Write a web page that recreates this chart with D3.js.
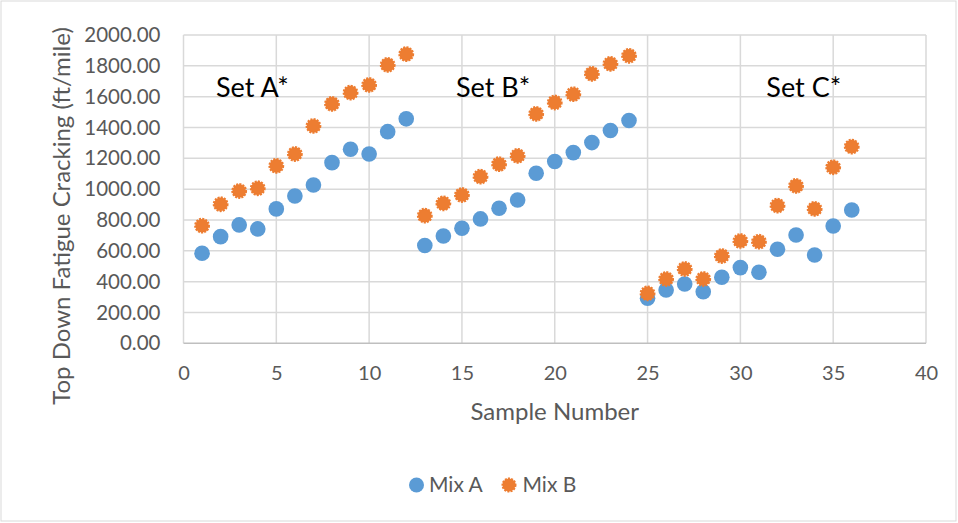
<!DOCTYPE html>
<html>
<head>
<meta charset="utf-8">
<script src="https://cdn.jsdelivr.net/npm/d3@7"></script>
<style>
  body { margin: 0; background: #fff; }
  svg text { font-family: Lato, "Open Sans", sans-serif; }
</style>
</head>
<body>
<svg id="chart" width="958" height="523"></svg>
<script>
const samples = d3.range(1, 37);
const mixA = [584, 692, 768, 742, 872, 956, 1027, 1172, 1259, 1228, 1373, 1456,
              634, 696, 746, 807, 876, 930, 1103, 1179, 1237, 1302, 1380, 1445,
              292, 346, 385, 335, 428, 491, 461, 610, 703, 573, 761, 865];
const mixB = [763, 902, 988, 1006, 1151, 1228, 1410, 1553, 1626, 1676, 1806, 1876,
              828, 908, 962, 1081, 1162, 1216, 1488, 1562, 1616, 1748, 1813, 1865,
              324, 417, 482, 417, 566, 664, 659, 893, 1021, 872, 1142, 1276];
const setLabels = [
  {text: "Set A*", x: 1.75, y: 1598},
  {text: "Set B*", x: 14.68, y: 1598},
  {text: "Set C*", x: 31.4, y: 1598}
];
const xTicks = d3.range(0, 41, 5);
const yTicks = d3.range(0, 2001, 200);

const margin = {top: 35, left: 183.5, right: 32, bottom: 180};
const width = 958, height = 523;
const svg = d3.select("#chart");

svg.append("rect")
    .attr("x", 1).attr("y", 1)
    .attr("width", width - 3).attr("height", height - 3)
    .attr("fill", "#fff").attr("stroke", "#d9d9d9").attr("stroke-width", 1);

const xScale = d3.scaleLinear().domain([0, 40]).range([margin.left, width - margin.right]);
const yScale = d3.scaleLinear().domain([0, 2000]).range([343.3, margin.top]);

// grid
svg.append("g").selectAll("line").data(yTicks.slice(1)).join("line")
    .attr("x1", xScale(0)).attr("x2", xScale(40))
    .attr("y1", d => yScale(d)).attr("y2", d => yScale(d))
    .attr("stroke", "#d9d9d9").attr("stroke-width", 1.5);
svg.append("g").selectAll("line").data(xTicks).join("line")
    .attr("x1", d => xScale(d)).attr("x2", d => xScale(d))
    .attr("y1", yScale(0)).attr("y2", yScale(2000))
    .attr("stroke", "#d9d9d9").attr("stroke-width", 1.5);
svg.append("line")
    .attr("x1", xScale(0)).attr("x2", xScale(40))
    .attr("y1", yScale(0)).attr("y2", yScale(0))
    .attr("stroke", "#bfbfbf").attr("stroke-width", 1.5);

// axes
const xAxis = d3.axisBottom(xScale).tickValues(xTicks).tickSize(0).tickPadding(23);
const gx = svg.append("g").attr("transform", `translate(0,${yScale(0)})`).call(xAxis);
gx.select(".domain").remove();
gx.selectAll("text").attr("font-size", 20).attr("fill", "#595959")
    .style("font-family", "Lato, 'Open Sans', sans-serif");

const yAxis = d3.axisLeft(yScale).tickValues(yTicks).tickSize(0).tickPadding(23)
    .tickFormat(d => d.toFixed(2));
const gy = svg.append("g").attr("transform", `translate(${xScale(0)},0)`).call(yAxis);
gy.select(".domain").remove();
gy.selectAll("text").attr("font-size", 20.5).attr("fill", "#595959")
    .style("font-family", "Lato, 'Open Sans', sans-serif");

// titles
svg.append("text")
    .attr("x", (xScale(0) + xScale(40)) / 2).attr("y", 420)
    .attr("text-anchor", "middle").attr("font-size", 24).attr("fill", "#595959")
    .text("Sample Number");
svg.append("text")
    .attr("transform", "translate(70,216) rotate(-90)")
    .attr("text-anchor", "middle").attr("font-size", 24).attr("fill", "#595959")
    .text("Top Down Fatigue Cracking (ft/mile)");

// set labels
svg.append("g").selectAll("text").data(setLabels).join("text")
    .attr("x", d => xScale(d.x)).attr("y", d => yScale(d.y))
    .attr("font-size", 27).attr("fill", "#000")
    .text(d => d.text);

// points
svg.append("g").selectAll("circle").data(samples).join("circle")
    .attr("cx", d => xScale(d)).attr("cy", (d, i) => yScale(mixA[i]))
    .attr("r", 7.8).attr("fill", "#5b9bd5");
svg.append("g").selectAll("circle").data(samples).join("circle")
    .attr("cx", d => xScale(d)).attr("cy", (d, i) => yScale(mixB[i]))
    .attr("r", 6.8).attr("fill", "#ed7d31")
    .attr("stroke", "#ed7d31").attr("stroke-width", 2.2).attr("stroke-dasharray", "2,1.2");

// legend
const legend = svg.append("g").attr("transform", "translate(0,485)");
legend.append("circle").attr("cx", 416.5).attr("cy", 0).attr("r", 7.5).attr("fill", "#5b9bd5");
legend.append("text").attr("x", 429).attr("y", 7).attr("font-size", 21).attr("fill", "#595959").text("Mix A");
legend.append("circle").attr("cx", 509).attr("cy", 0).attr("r", 6.5)
    .attr("fill", "#ed7d31").attr("stroke", "#ed7d31").attr("stroke-width", 2).attr("stroke-dasharray", "2,1.2");
legend.append("text").attr("x", 522.5).attr("y", 7).attr("font-size", 21).attr("fill", "#595959").text("Mix B");
</script>
</body>
</html>
